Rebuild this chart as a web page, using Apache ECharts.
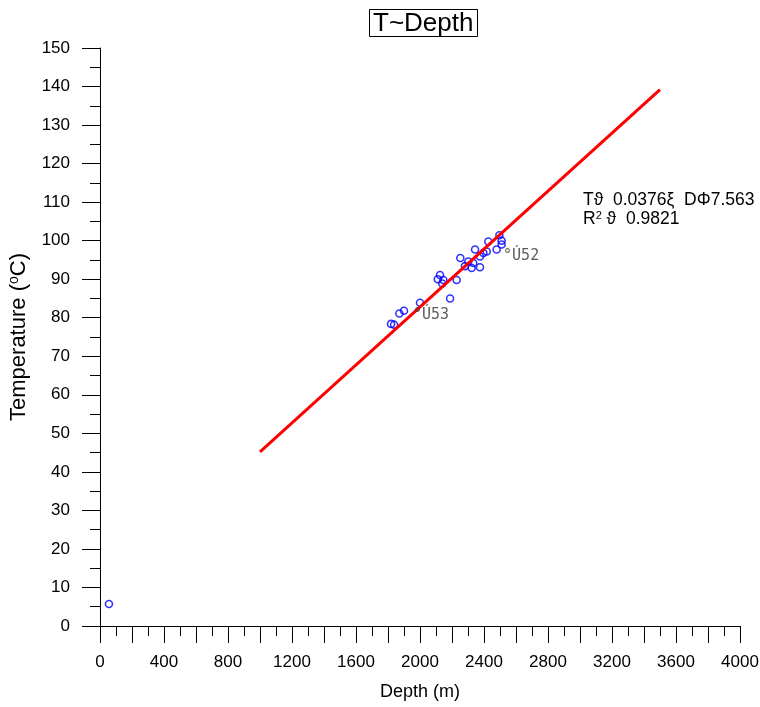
<!DOCTYPE html>
<html>
<head>
<meta charset="utf-8">
<script src="https://cdn.jsdelivr.net/npm/echarts@6/dist/echarts.min.js"></script>
<style>html,body{margin:0;padding:0;background:#fff;}#c{width:760px;height:707px;}</style>
</head>
<body>
<div id="c"></div>
<script>
// Data
const depth = [56, 1819, 1838, 1871, 1900, 2000, 2188, 2111, 2125, 2146, 2139, 2229,
  2252, 2281, 2302, 2323, 2333, 2344, 2375, 2375, 2396, 2417, 2427, 2479, 2496, 2510, 2510];
const temp = [5.7, 78.4, 78.2, 81.1, 81.8, 83.9, 85.0, 90.0, 91.1, 89.8, 88.9, 89.8,
  95.5, 93.4, 94.6, 92.9, 94.2, 97.7, 93.1, 95.9, 96.8, 97.2, 99.8, 97.7, 101.4, 100.0, 99.0];
const fitX = [1000, 3500];
const fitY = [45.2, 139.2];
const wellNames = ['°Ú52', '°Ú53'];
const wellX = [2519, 1956];
const wellY = [96.0, 80.6];
const eqLines = ['Tϑ  0.0376ξ  DΦ7.563', 'R{sup|2} ϑ  0.9821'];

const chart = echarts.init(document.getElementById('c'));
const font = 'Liberation Sans, Arial, sans-serif';
chart.setOption({
  animation: false,
  backgroundColor: '#fff',
  title: {
    text: 'T~Depth', left: 369, top: 9,
    textStyle: {fontFamily: font, fontSize: 26, fontWeight: 'normal', color: '#000', lineHeight: 27},
    borderColor: '#000', borderWidth: 1, padding: [1, 4, 0, 4]
  },
  grid: {left: 100, right: 20, top: 48, bottom: 81, outerBoundsMode: 'none', containLabel: false},
  xAxis: {
    type: 'value', min: 0, max: 4000, interval: 200,
    name: 'Depth (m)', nameLocation: 'middle', nameGap: 57,
    nameTextStyle: {fontFamily: font, fontSize: 18, color: '#000'},
    axisLine: {show: true, lineStyle: {color: '#000', width: 1}},
    axisTick: {show: true, length: 17, lineStyle: {color: '#000'}},
    minorTick: {show: true, splitNumber: 2, length: 10, lineStyle: {color: '#000'}},
    axisLabel: {fontFamily: font, fontSize: 17, color: '#000', margin: 28,
      formatter: v => (v % 400 === 0 ? String(v) : '')},
    splitLine: {show: false}
  },
  yAxis: {
    type: 'value', min: 0, max: 150, interval: 10,
    name: 'Temperature ({sup|o}C)', nameLocation: 'middle', nameGap: 70, nameRotate: 90,
    nameTextStyle: {fontFamily: font, fontSize: 22, color: '#000',
      rich: {sup: {fontFamily: font, fontSize: 14, color: '#000', verticalAlign: 'top', padding: [0, 0, 9, 0]}}},
    axisLine: {show: true, lineStyle: {color: '#000', width: 1}},
    axisTick: {show: true, length: 18, lineStyle: {color: '#000'}},
    minorTick: {show: true, splitNumber: 2, length: 10, lineStyle: {color: '#000'}},
    axisLabel: {fontFamily: font, fontSize: 17, color: '#000', margin: 30},
    splitLine: {show: false}
  },
  series: [
    {
      type: 'line', data: fitX.map((x, i) => [x, fitY[i]]),
      symbol: 'none', lineStyle: {color: '#ff0000', width: 3}, z: 3
    },
    {
      type: 'scatter', data: depth.map((d, i) => [d, temp[i]]),
      symbol: 'circle', symbolSize: 7,
      itemStyle: {color: 'rgba(0,0,0,0)', borderColor: '#0000ff', borderWidth: 1.6}, z: 2
    },
    {
      type: 'scatter', data: wellX.map((x, i) => ({value: [x, wellY[i]], name: wellNames[i]})),
      symbolSize: 0,
      label: {show: true, position: 'right', distance: 0, formatter: p => p.name,
        fontFamily: 'DejaVu Sans Mono, monospace', fontSize: 15, color: '#333'},
      z: 4
    }
  ],
  graphic: [{
    type: 'text', left: 583, top: 191,
    style: {
      text: eqLines.join('\n'), fontFamily: font, fontSize: 17.5, fill: '#000', lineHeight: 19,
      rich: {sup: {fontFamily: font, fontSize: 11, fill: '#000', verticalAlign: 'top', padding: [0, 0, 7, 0]}}
    }
  }]
});
</script>
</body>
</html>
